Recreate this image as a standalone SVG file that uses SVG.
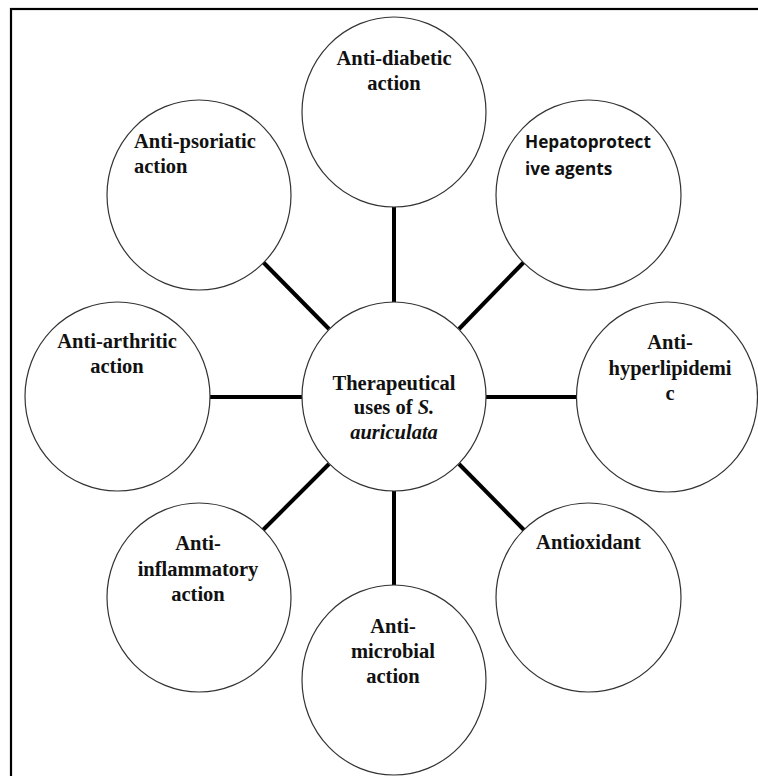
<svg xmlns="http://www.w3.org/2000/svg" width="758" height="776" viewBox="0 0 758 776">
<style>
.node ellipse{fill:#fff;stroke:#333;stroke-width:1.2}
.t{font-family:"Liberation Serif","Times New Roman",serif;font-weight:bold;font-size:20.5px;fill:#111}
.c{text-anchor:middle}
.s{font-family:"Open Sans","Noto Sans",sans-serif;font-weight:bold;font-size:17.2px;fill:#111}
#connectors line{stroke:#000;stroke-width:4}
</style>
<rect x="0" y="0" width="758" height="776" fill="#fff"/>
<rect x="11" y="9" width="800" height="800" fill="none" stroke="#000" stroke-width="2.2"/>
<g id="connectors">
<line x1="263" y1="262" x2="329" y2="329"/>
<line x1="394" y1="206" x2="394" y2="303"/>
<line x1="524" y1="262" x2="459" y2="329"/>
<line x1="209" y1="397" x2="303" y2="397"/>
<line x1="485" y1="397" x2="578" y2="397"/>
<line x1="329" y1="464" x2="263" y2="530"/>
<line x1="459" y1="464" x2="524" y2="530"/>
<line x1="394" y1="490" x2="394" y2="586"/>
</g>
<g id="center" class="node">
<ellipse cx="394" cy="396.5" rx="92" ry="94.5"/>
<text class="t c" x="394" y="390">Therapeutical</text>
<text class="t c" x="394" y="414">uses of <tspan font-style="italic">S.</tspan></text>
<text class="t c" x="394" y="439" font-style="italic">auriculata</text>
</g>
<g id="diabetic" class="node">
<ellipse cx="394" cy="112" rx="92" ry="95"/>
<text class="t c" x="394" y="65">Anti-diabetic</text>
<text class="t c" x="394" y="90">action</text>
</g>
<g id="hepato" class="node">
<ellipse cx="588.5" cy="195" rx="92.5" ry="95"/>
<text class="s" x="525" y="148">Hepatoprotect</text>
<text class="s" x="525" y="175">ive agents</text>
</g>
<g id="hyperlipidemic" class="node">
<ellipse cx="667" cy="397" rx="90.5" ry="95"/>
<text class="t c" x="670" y="349">Anti-</text>
<text class="t c" x="670" y="375">hyperlipidemi</text>
<text class="t c" x="670" y="400">c</text>
</g>
<g id="antioxidant" class="node">
<ellipse cx="588.5" cy="597.5" rx="92.5" ry="94.5"/>
<text class="t c" x="588.5" y="549">Antioxidant</text>
</g>
<g id="microbial" class="node">
<ellipse cx="394" cy="680" rx="92" ry="95"/>
<text class="t c" x="393" y="633">Anti-</text>
<text class="t c" x="393" y="658">microbial</text>
<text class="t c" x="393" y="683">action</text>
</g>
<g id="inflammatory" class="node">
<ellipse cx="199" cy="597.5" rx="92" ry="94.5"/>
<text class="t c" x="198" y="550">Anti-</text>
<text class="t c" x="198" y="576">inflammatory</text>
<text class="t c" x="198" y="601">action</text>
</g>
<g id="arthritic" class="node">
<ellipse cx="117.5" cy="396.5" rx="92.5" ry="94.5"/>
<text class="t c" x="117" y="348">Anti-arthritic</text>
<text class="t c" x="117" y="373">action</text>
</g>
<g id="psoriatic" class="node">
<ellipse cx="199" cy="195" rx="92" ry="95"/>
<text class="t" x="134" y="148">Anti-psoriatic</text>
<text class="t" x="134" y="173">action</text>
</g>
</svg>
